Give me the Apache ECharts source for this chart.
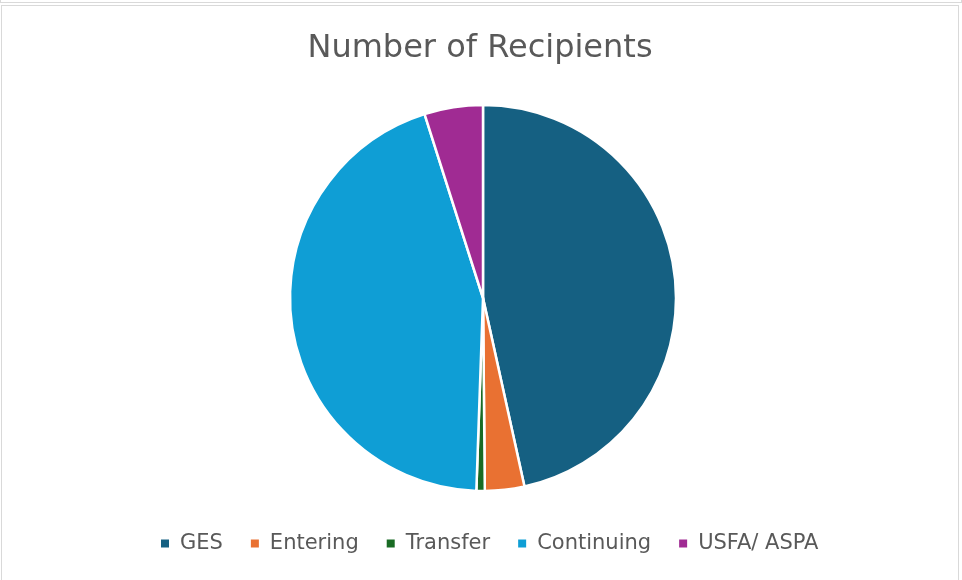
<!DOCTYPE html>
<html>
<head>
<meta charset="utf-8">
<script src="https://cdn.jsdelivr.net/npm/echarts@6/dist/echarts.min.js"></script>
<style>
  html, body { margin: 0; padding: 0; background: #fff; }
  #top { position: absolute; left: 0; top: 0; width: 960px; height: 2px; border: 1px solid #d9d9d9; border-top: none; }
  #main { position: absolute; left: 1px; top: 5px; width: 958px; height: 575px; border: 1px solid #d9d9d9; border-bottom: none; box-sizing: border-box; }
</style>
</head>
<body>
<div id="top"></div>
<div id="main"></div>
<script>
    // 分类和数值
    var categories = ['GES', 'Entering', 'Transfer', 'Continuing', 'USFA/ ASPA'];
    var values = [466, 33, 7, 446, 49];
    var colors = ['#156082', '#E97132', '#196B24', '#0F9ED5', '#A02B93'];

    var chart = echarts.init(document.getElementById('main'));
    var data = [];
    for (var i = 0; i < categories.length; i++) {
        data.push({ name: categories[i], value: values[i] });
    }
    var option = {
        color: colors,
        title: {
            text: 'Number of Recipients',
            left: 'center',
            top: 22,
            textStyle: {
                fontFamily: 'DejaVu Sans',
                fontSize: 32,
                fontWeight: 'normal',
                color: '#595959'
            }
        },
        legend: {
            bottom: 21,
            left: 152,
            itemWidth: 10,
            itemHeight: 10,
            itemGap: 26,
            icon: 'rect',
            textStyle: {
                fontFamily: 'DejaVu Sans',
                fontSize: 21,
                color: '#595959',
                padding: [0, 0, 0, 5]
            },
            data: categories
        },
        series: [
            {
                type: 'pie',
                center: [481, 292],
                radius: [0, 193],
                startAngle: 90,
                clockwise: true,
                label: { show: false },
                labelLine: { show: false },
                emphasis: { disabled: true },
                itemStyle: {
                    borderColor: '#fff',
                    borderWidth: 2.5
                },
                data: data
            }
        ]
    };
    chart.setOption(option);
</script>
</body>
</html>
